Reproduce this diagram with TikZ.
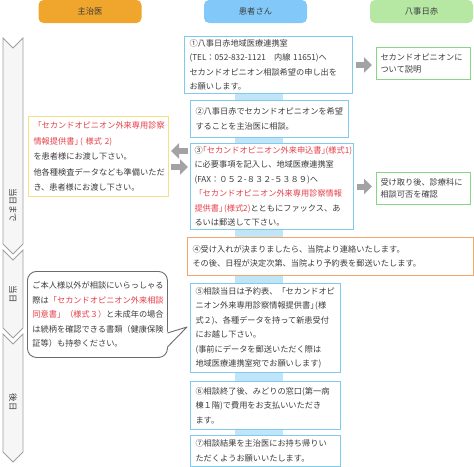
\documentclass[tikz,border=0pt]{standalone}
\usepackage{fontspec}
\setmainfont{Noto Sans CJK JP}
\usepackage{xcolor}
\usepackage{tikz}
\usetikzlibrary{arrows.meta}

\definecolor{textgray}{HTML}{3C3C3C}
\definecolor{formred}{HTML}{E5404A}
\definecolor{pillorange}{HTML}{F0A62C}
\definecolor{pillblue}{HTML}{82C9FA}
\definecolor{pillgreen}{HTML}{B6E8A4}
\definecolor{boxblue}{HTML}{7FCBEF}
\definecolor{boxorange}{HTML}{F2A66A}
\definecolor{boxgreen}{HTML}{86D686}
\definecolor{noteyellow}{HTML}{F7DF85}
\definecolor{stripblue}{HTML}{C0E4F8}
\definecolor{arrowgray}{HTML}{A3A3A3}

\newcommand{\redtxt}[1]{\textcolor{formred}{#1}}

\tikzset{
  pill/.style={fill=#1, rounded corners=5pt, minimum width=103pt, minimum height=23pt,
    inner sep=0pt, font=\fontsize{8.3}{10}\selectfont, text=textgray},
  flowbox/.style={draw=boxblue, fill=white, line width=1pt, anchor=north west, align=left,
    inner xsep=5pt, inner ysep=2pt, font=\fontsize{8.2}{14.5}\selectfont, text=textgray},
  notebox/.style={flowbox, draw=noteyellow, font=\fontsize{8.2}{15.5}\selectfont},
  hospbox/.style={flowbox, draw=boxgreen, inner xsep=4pt, font=\fontsize{8.2}{12.5}\selectfont},
  bubline/.style={draw=gray!85!black, line width=0.9pt, line join=round},
  bubble/.style={flowbox, bubline, rounded corners=9pt, font=\fontsize{8.2}{14.5}\selectfont},
  blockarrow/.style={line width=6pt, draw=arrowgray, -{Triangle[length=8pt,width=15pt]}},
  chevron/.style={draw=gray!75, fill=gray!7, line width=0.8pt},
  phase/.style={rotate=-90, font=\fontsize{8.5}{10}\selectfont, text=textgray}
}

\begin{document}
\begin{tikzpicture}[x=1pt,y=-1pt]
  \useasboundingbox (0,0) rectangle (474,466);

  % column heads
  \node[pill=pillorange] (doc)  at (90,11.5)    {主治医};
  \node[pill=pillblue]   (pat)  at (255.5,11.5) {患者さん};
  \node[pill=pillgreen]  (hosp) at (421.5,11.5) {八事日赤};

  % time line on the left
  \draw[chevron] (3,38) -- (13,48) -- (23,38) -- (23,244) -- (13,254) -- (3,244) -- cycle;
  \draw[chevron] (3,250) -- (13,260) -- (23,250) -- (23,328) -- (13,338) -- (3,328) -- cycle;
  \draw[chevron] (3,334) -- (13,344) -- (23,334) -- (23,452) -- (13,462) -- (3,452) -- cycle;
  \node[phase] (before) at (13,205) {当日まで};
  \node[phase] (today)  at (13,294) {当日};
  \node[phase] (after)  at (13,402) {後日};

  % patient column
  \fill[stripblue] (235,37) rectangle (283,466);

  \node[flowbox, text width=158pt, minimum height=57pt] (b1) at (184,36)
    {①八事日赤地域医療連携室\\
     (TEL：052-832-1121　内線 11651)へ\\
     セカンドオピニオン相談希望の申し出を\\
     お願いします。};
  \node[flowbox, text width=148pt, minimum height=37pt] (b2) at (190,100)
    {②八事日赤でセカンドオピニオンを希望\\
     することを主治医に相談。};
  \node[flowbox, inner xsep=4pt, text width=155pt, minimum height=86pt] (b3) at (190,143)
    {③\kern-.5em\redtxt{「セカンドオピニオン外来申込書」\kern-.5em(様式1)}\\
     に必要事項を記入し、地域医療連携室\\
     (FAX：０５２-８３２-５３８９)へ\\
     \redtxt{「セカンドオピニオン外来専用診察情報}\\
     \redtxt{提供書」\kern-.4em(様式2)}とともにファックス、あ\\
     るいは郵送して下さい。};
  \node[flowbox, draw=boxorange, text width=276pt, minimum height=38pt] (b4) at (187,237)
    {④受け入れが決まりましたら、当院より連絡いたします。\\
     その後、日程が決定次第、当院より予約表を郵送いたします。};
  \node[flowbox, text width=140pt, minimum height=89pt] (b5) at (190,283)
    {⑤相談当日は予約表、「セカンドオピ\\
     ニオン外来専用診察情報提供書」\kern-.4em(様\\
     式２)、各種データを持って新患受付\\
     にお越し下さい。\\
     (事前にデータを郵送いただく際は\\
     地域医療連携室宛でお願いします)};
  \node[flowbox, text width=140pt, minimum height=48pt] (b6) at (190,381)
    {⑥相談終了後、みどりの窓口(第一病\\
     棟１階)で費用をお支払いいただき\\
     ます。};
  \node[flowbox, text width=140pt, minimum height=30.5pt] (b7) at (190,435)
    {⑦相談結果を主治医にお持ち帰りい\\
     ただくようお願いいたします。};

  % doctor column
  \node[notebox, text width=130pt, minimum height=80pt] (lbox) at (28,116)
    {\redtxt{「セカンドオピニオン外来専用診察}\\
     \redtxt{情報提供書」\kern-.3em( 様式 2)}\\
     を患者様にお渡し下さい。\\
     他各種検査データなども準備いただ\\
     き、患者様にお渡し下さい。};
  \node[bubble, text width=130pt, minimum height=86pt] (bub) at (27,271)
    {ご本人様以外が相談にいらっしゃる\\
     際は\redtxt{「セカンドオピニオン外来相談}\\
     \redtxt{同意書」（様式３）}と未成年の場合\\
     は続柄を確認できる書類（健康保険\\
     証等）も持参ください。};
  \coordinate (tailtip) at (187,327);
  \fill[white] ([shift={(-1.2pt,-61pt)}]bub.north east) -- (tailtip)
    -- ([shift={(-1.2pt,-77pt)}]bub.north east) -- cycle;
  \draw[bubline] ([shift={(-0.45pt,-62pt)}]bub.north east) -- (tailtip)
    -- ([shift={(-0.45pt,-76pt)}]bub.north east);

  % hospital column
  \node[hospbox, text width=86pt, minimum height=32pt] (r1) at (376,47)
    {セカンドオピニオンに\\ついて説明};
  \node[hospbox, text width=86pt, minimum height=32pt] (r2) at (376,172)
    {受け取り後、診療科に\\相談可否を確認};

  % arrows
  \draw[blockarrow] ([xshift=3pt]b1.east) -- ([xshift=-4pt]b1.east -| r1.west);
  \draw[blockarrow] ([xshift=3pt]b3.east) -- ([xshift=-4pt]b3.east -| r2.west);
  \draw[blockarrow] ([shift={(-2pt,-8pt)}]b3.north west) -- ([shift={(2pt,-8pt)}]b3.north west -| lbox.east);
  \draw[blockarrow] ([shift={(2pt,-24pt)}]b3.north west -| lbox.east) -- ([shift={(-2pt,-24pt)}]b3.north west);
\end{tikzpicture}
\end{document}
